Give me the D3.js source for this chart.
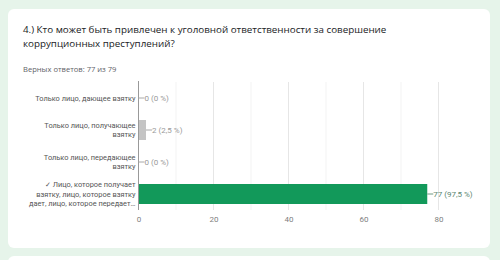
<!DOCTYPE html>
<html lang="ru">
<head>
<meta charset="utf-8" />
<title>Вопрос 4</title>
<script src="https://cdn.jsdelivr.net/npm/d3@7"></script>
<style>
  body { margin: 0; background: #e6f4ea; }
  svg { display: block; }
</style>
</head>
<body>
<script>
"use strict";

// data
let categories = [
  "Только лицо, дающее взятку",
  "Только лицо, получающее\nвзятку",
  "Только лицо, передающее\nвзятку",
  "✓ Лицо, которое получает\nвзятку, лицо, которое взятку\nдает, лицо, которое передает…"
]
let counts = [0, 2, 0, 77]
let percents = ["0 %", "2,5 %", "0 %", "97,5 %"]
let correct = [false, false, false, true]
let xTicks = [0, 20, 40, 60, 80]
let title = ["4.) Кто может быть привлечен к уголовной ответственности за совершение",
             "коррупционных преступлений?"]
let subtitle = "Верных ответов: 77 из 79"

let width = 500, height = 260
let margin = {top: 82, right: 61.5, bottom: 50, left: 138.5}

let svg = d3.select("body").append("svg")
    .attr("width", width)
    .attr("height", height)

// cards
svg.append("rect")
    .attr("x", 8).attr("y", 9).attr("width", 482).attr("height", 239)
    .attr("rx", 6).attr("fill", "#fff")
svg.append("rect")
    .attr("x", 8).attr("y", 256).attr("width", 482).attr("height", 20)
    .attr("rx", 6).attr("fill", "#fff")

// title
svg.append("g").selectAll("text").data(title).join("text")
    .attr("x", 23).attr("y", (d, i) => 32.5 + i * 14.5)
    .attr("font-family", "'Open Sans', sans-serif")
    .attr("font-size", 9.8)
    .attr("fill", "#202124")
    .text(d => d)

svg.append("text")
    .attr("x", 23).attr("y", 72)
    .attr("font-family", "'Open Sans', sans-serif")
    .attr("font-size", 7.6)
    .attr("fill", "#5f6368")
    .text(subtitle)

let x = d3.scaleLinear()
    .domain([0, 80])
    .range([margin.left, width - margin.right])

let y = d3.scaleBand()
    .domain(d3.range(categories.length))
    .range([margin.top, height - margin.bottom])
    .paddingInner(0.375)
    .paddingOuter(0.1875)

let g = svg.append("g")

// minor + major gridlines every 10
g.append("g").selectAll("line").data(d3.range(10, 81, 10)).join("line")
    .attr("x1", d => x(d)).attr("x2", d => x(d))
    .attr("y1", margin.top).attr("y2", height - margin.bottom)
    .attr("stroke", d => d % 20 == 0 ? "#e6e6e6" : "#f3f3f3")
    .attr("stroke-width", 1)

// x axis labels
let xAxis = g.append("g")
    .attr("transform", `translate(0,${height - margin.bottom})`)
    .call(d3.axisBottom(x).tickValues(xTicks).tickSize(0).tickPadding(6))
xAxis.select(".domain").remove()
xAxis.selectAll("text")
    .attr("font-family", "Roboto, sans-serif")
    .attr("font-size", 8)
    .attr("fill", "#808080")

// bars
g.append("g").selectAll("rect").data(counts).join("rect")
    .attr("x", x(0))
    .attr("y", (d, i) => y(i))
    .attr("width", d => x(d) - x(0))
    .attr("height", y.bandwidth())
    .attr("fill", (d, i) => correct[i] ? "#12995a" : "#c4c4c4")

// baseline
g.append("line")
    .attr("x1", x(0)).attr("x2", x(0))
    .attr("y1", margin.top - 1).attr("y2", height - margin.bottom)
    .attr("stroke", "#999").attr("stroke-width", 1)

// value labels with leader
let vals = g.append("g").selectAll("g").data(counts).join("g")
    .attr("transform", (d, i) => `translate(${x(d)},${y(i) + y.bandwidth() / 2})`)
vals.append("line")
    .attr("x1", 0).attr("x2", 6)
    .attr("stroke", (d, i) => correct[i] ? "#6f9a83" : "#a8a8a8")
vals.append("text")
    .attr("x", 6).attr("dy", "0.35em")
    .attr("font-family", "Roboto, sans-serif")
    .attr("font-size", 8)
    .attr("fill", (d, i) => correct[i] ? "#5a8670" : "#999")
    .text((d, i) => `${d} (${percents[i]})`)

// category labels
let lineH = 9.8
let labs = g.append("g").selectAll("text").data(categories).join("text")
    .attr("text-anchor", "end")
    .attr("font-family", "Roboto, sans-serif")
    .attr("font-size", 7.4)
    .attr("fill", "#555")
labs.each(function(d, i) {
  let lines = d.split("\n")
  let cy = y(i) + y.bandwidth() / 2
  let y0 = cy - (lines.length - 1) * lineH / 2
  d3.select(this).selectAll("tspan").data(lines).join("tspan")
      .attr("x", x(0) - 3)
      .attr("y", (l, k) => y0 + k * lineH)
      .attr("dy", "0.35em")
      .text(l => l)
})
</script>
</body>
</html>
